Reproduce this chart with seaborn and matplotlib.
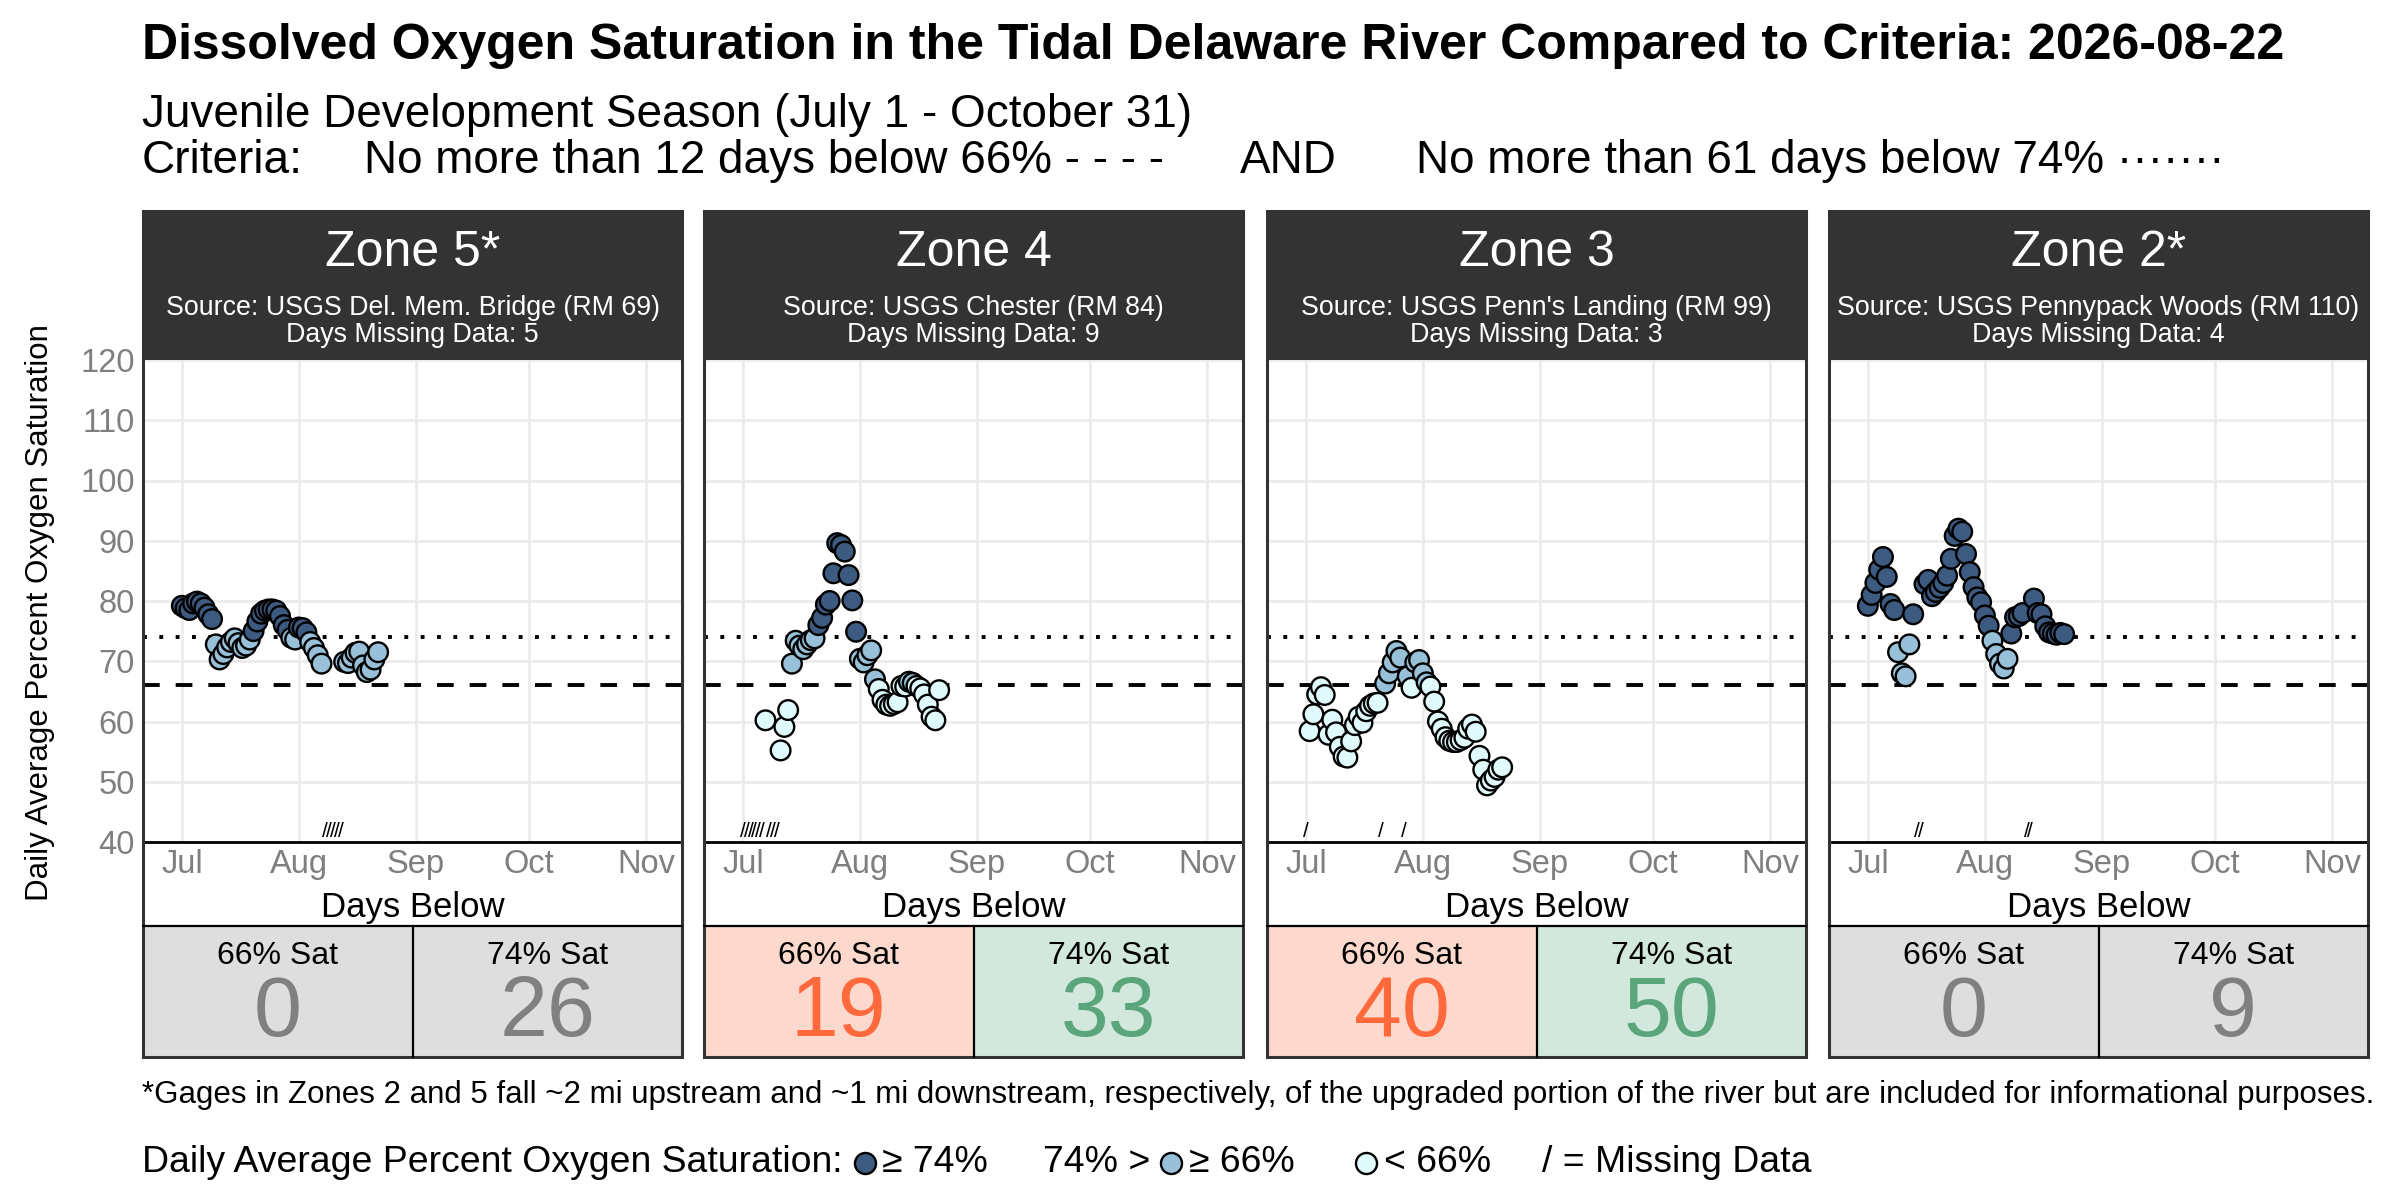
import numpy as np
import pandas as pd
import matplotlib
matplotlib.use("Agg")
import matplotlib.pyplot as plt
from matplotlib.patches import Rectangle
import seaborn as sns

nan = np.nan

# ---------------- data ----------------
report_date = "2026-08-22"
season_start = "2026-07-01"

zone_names = ["Zone 5*", "Zone 4", "Zone 3", "Zone 2*"]
zone_sources = ["Source: USGS Del. Mem. Bridge (RM 69)",
                "Source: USGS Chester (RM 84)",
                "Source: USGS Penn's Landing (RM 99)",
                "Source: USGS Pennypack Woods (RM 110)"]
zone_informational = [True, False, False, True]

zone5_sat = [79.2, 78.8, 78.5, 79.6, 79.9, 79.6, 78.9, 77.8, 77.0,
             72.8, 70.3, 71.2, 72.3, 73.2, 73.8, 73.0, 72.2, 72.6, 73.6,
             75.0, 76.6, 77.9, 78.4, 78.6, 78.6, 78.4, 77.5, 76.0, 75.2,
             73.9, 73.6, 75.6, 75.5, 74.8, 73.2, 72.2, 71.0, 69.6,
             nan, nan, nan, nan, nan,
             69.9, 69.7, 70.6, 71.4, 71.6, 69.3, 68.2, 68.6, 70.3, 71.5]

zone4_sat = [nan, nan, nan, nan, nan, nan, 60.2, nan, nan, nan,
             55.2, 59.1, 61.9, 69.6, 73.4, 72.6, 72.0, 72.8, 73.5, 73.8,
             76.0, 77.2, 79.4, 80.0, 84.6, 89.6, 89.3, 88.2, 84.3, 80.1,
             74.9, 70.4, 69.8, 71.0, 71.8, 67.0, 65.4, 63.6, 62.8, 62.6,
             62.9, 63.2, 65.9, 65.8, 66.6, 66.4, 65.9, 65.5, 64.5, 62.8,
             60.8, 60.2, 65.2]

zone3_sat = [nan, 58.4, 61.2, 64.5, 65.7, 64.4, 57.8, 60.3, 58.2, 55.8,
             54.2, 54.0, 56.7, 59.4, 60.8, 59.8, 61.7, 62.6, 63.0, 63.1,
             nan, 66.3, 68.0, 69.8, 71.7, 70.6, nan, 67.5, 65.6, 69.8,
             70.2, 68.0, 66.5, 65.8, 63.3, 60.0, 58.8, 57.4, 56.8, 56.6,
             56.6, 56.9, 57.3, 58.8, 59.5, 58.3, 54.3, 52.0, 49.4, 50.2,
             50.8, 52.0, 52.4]

zone2_sat = [79.2, 81.0, 83.0, 85.2, 87.3, 84.0, 79.5, 78.5, 71.5, 68.0,
             67.5, 72.8, 77.8, nan, nan, 82.8, 83.5, 80.8, 81.5, 82.2,
             83.0, 84.2, 87.0, 90.8, 92.0, 91.5, 87.8, 84.8, 82.3, 80.6,
             79.8, 77.6, 75.9, 73.4, 71.2, 69.6, 68.8, 70.4, 74.6, 77.3,
             77.5, 78.0, nan, nan, 80.4, 78.0, 77.8, 75.8, 74.8, 74.6,
             74.4, 74.7, 74.5]

zone_series = [zone5_sat, zone4_sat, zone3_sat, zone2_sat]

month_ticks = ["2026-07-01", "2026-08-01", "2026-09-01", "2026-10-01", "2026-11-01"]
month_labels = ["Jul", "Aug", "Sep", "Oct", "Nov"]
y_ticks = [40, 50, 60, 70, 80, 90, 100, 110, 120]

crit_low, crit_high = 66, 74
allowed_low, allowed_high = 12, 61

level_names = ["high", "mid", "low"]
level_colors = ["#3D5A80", "#98C1D9", "#E0FBFC"]

# ---------------- style ----------------
sns.set_theme(style="white")
plt.rcParams["font.family"] = ["Liberation Sans", "DejaVu Sans"]
plt.rcParams["text.color"] = "black"

W, H = 2400, 1200
fig = plt.figure(figsize=(W / 100, H / 100), dpi=100)
fig.patch.set_facecolor("white")
renderer = fig.canvas.get_renderer()


def rect(x0, y0, x1, y1):
    return [x0 / W, 1 - y1 / H, (x1 - x0) / W, (y1 - y0) / H]


def text_width(t):
    return t.get_window_extent(renderer=renderer).width


def fit(t, target):
    t.set_fontsize(t.get_fontsize() * target / text_width(t))


ov = fig.add_axes([0, 0, 1, 1], zorder=10)
ov.set_xlim(0, W)
ov.set_ylim(H, 0)
ov.set_axis_off()

panel_left = [143, 704, 1267, 1829]
panel_w = 539
strip_top, plot_top, plot_bot, table_top, table_bot = 211, 360, 842, 926, 1057

dates = pd.date_range(season_start, periods=len(zone5_sat), freq="D")
x_min = pd.Timestamp("2026-06-20 17:00")
x_max = pd.Timestamp("2026-11-10 12:00")
palette = dict(zip(level_names, level_colors))

for k, (name, src, info, series) in enumerate(zip(zone_names, zone_sources,
                                                   zone_informational, zone_series)):
    L = panel_left[k]
    vals = np.array(series, dtype=float)
    df = pd.DataFrame({"date": dates, "sat": vals}).dropna()
    df["level"] = np.where(df["sat"] >= crit_high, "high",
                           np.where(df["sat"] >= crit_low, "mid", "low"))

    ax = fig.add_axes(rect(L, plot_top, L + panel_w, plot_bot))
    ax.set_facecolor("white")
    ax.grid(True, color="#EBEBEB", lw=1.9)
    ax.set_axisbelow(True)
    ax.axhline(crit_high, color="black", lw=2.8, ls=(0, (1, 3.2)), zorder=2)
    ax.axhline(crit_low, color="black", lw=2.8, ls=(0, (4.3, 4.1)), zorder=2)
    sns.scatterplot(data=df, x="date", y="sat", hue="level", hue_order=level_names,
                    palette=palette, s=200, edgecolor="black", linewidth=1.7,
                    legend=False, ax=ax, zorder=3)
    missing = dates[np.isnan(vals)]
    for d in missing:
        ax.text(d, 40.2, "/", ha="center", va="bottom", fontsize=15,
                color="black", zorder=4)
    ax.set_xlim(x_min, x_max)
    ax.set_ylim(40, 120)
    ax.set_xticks(pd.to_datetime(month_ticks))
    ax.set_xticklabels(month_labels)
    ax.set_yticks(y_ticks)
    ax.tick_params(axis="both", length=0, labelsize=23.5, labelcolor="#7F7F7F")
    ax.tick_params(axis="x", pad=5)
    ax.tick_params(axis="y", pad=6, labelleft=(k == 0))
    ax.set_xlabel("")
    ax.set_ylabel("")
    for s in ["top", "left", "right"]:
        ax.spines[s].set_visible(False)
    ax.spines["bottom"].set_color("black")
    ax.spines["bottom"].set_linewidth(2)

    cx = L + panel_w / 2
    # strip
    ov.add_patch(Rectangle((L, strip_top), panel_w, plot_top - strip_top,
                           fc="#333333", ec="none"))
    ov.text(cx, 253, name, color="white", fontsize=36, ha="center", va="center")
    ov.text(cx, 308, src, color="white", fontsize=19.3, ha="center", va="center")
    n_missing = int(np.isnan(vals).sum())
    ov.text(cx, 335, f"Days Missing Data: {n_missing}", color="white", fontsize=19.3,
            ha="center", va="center")

    # days-below table
    n_low = int(np.sum(vals < crit_low))
    n_high = int(np.sum(vals < crit_high))
    if info:
        bg_low = bg_high = "#DEDEDE"
        fg_low = fg_high = "#808080"
    else:
        bg_low, fg_low = ("#FDD8CC", "#FF693B") if n_low > allowed_low else ("#D3E8DD", "#5AA57A")
        bg_high, fg_high = ("#FDD8CC", "#FF693B") if n_high > allowed_high else ("#D3E8DD", "#5AA57A")
    ov.text(cx, 908, "Days Below", fontsize=25, ha="center", va="center")
    ov.add_patch(Rectangle((L, table_top), panel_w / 2, table_bot - table_top, fc=bg_low, ec="none"))
    ov.add_patch(Rectangle((cx, table_top), panel_w / 2, table_bot - table_top, fc=bg_high, ec="none"))
    ov.plot([L, L + panel_w], [table_top, table_top], color="black", lw=1.6)
    ov.plot([cx, cx], [table_top, table_bot], color="black", lw=1.6)
    ov.text(L + panel_w / 4, 956, f"{crit_low}% Sat", fontsize=23, ha="center", va="center")
    ov.text(L + 3 * panel_w / 4, 956, f"{crit_high}% Sat", fontsize=23, ha="center", va="center")
    ov.text(L + panel_w / 4, 1014, str(n_low), fontsize=62, color=fg_low, ha="center", va="center")
    ov.text(L + 3 * panel_w / 4, 1014, str(n_high), fontsize=62, color=fg_high, ha="center", va="center")
    ov.add_patch(Rectangle((L, strip_top), panel_w, table_bot - strip_top,
                           fill=False, ec="#333333", lw=2.2))

# y label
yl = ov.text(40, 613, "Daily Average Percent Oxygen Saturation", rotation=90,
             fontsize=22.5, ha="center", va="center")

# titles
t = ov.text(142, 46, "Dissolved Oxygen Saturation in the Tidal Delaware River Compared to "
            f"Criteria: {report_date}", fontsize=33, fontweight="bold", ha="left", va="center")
fit(t, 2143)
st = ov.text(142, 115, "Juvenile Development Season (July 1 - October 31)", fontsize=33,
             ha="left", va="center")
fit(st, 1052)
fs_sub = st.get_fontsize()
ov.text(142, 161, "Criteria:", fontsize=fs_sub, ha="left", va="center")
ov.text(364, 161, f"No more than {allowed_low} days below {crit_low}% - - - -", fontsize=fs_sub,
        ha="left", va="center")
ov.text(1240, 161, "AND", fontsize=fs_sub, ha="left", va="center")
ov.text(1416, 161, f"No more than {allowed_high} days below {crit_high}% \u00b7\u00b7\u00b7\u00b7\u00b7\u00b7\u00b7",
        fontsize=fs_sub, ha="left", va="center")

# footnote
fn = ov.text(142, 1095, "*Gages in Zones 2 and 5 fall ~2 mi upstream and ~1 mi downstream, "
             "respectively, of the upgraded portion of the river but are included for "
             "informational purposes.", fontsize=20, ha="left", va="center")
fit(fn, 2228)

# legend row
yL = 1163
x = 142
lab = ov.text(x, yL, "Daily Average Percent Oxygen Saturation:", fontsize=27, ha="left", va="center")
fit(lab, 700)
fs_leg = lab.get_fontsize()
x += text_width(lab) + 12
items = [("dot", level_colors[0], 8),
         ("text", "\u2265 74%", 55),
         ("text", "74% >", 10),
         ("dot", level_colors[1], 8),
         ("text", "\u2265 66%", 62),
         ("dot", level_colors[2], 8),
         ("text", "< 66%", 50),
         ("text", "/ = Missing Data", 0)]
for kind, val, gap in items:
    if kind == "text":
        tt = ov.text(x, yL, val, fontsize=fs_leg, ha="left", va="center")
        x += text_width(tt) + gap
    else:
        ov.scatter([x + 10], [yL], s=230, c=val, edgecolors="black", linewidths=1.7)
        x += 20 + gap

fig.savefig("out.png", dpi=100, facecolor="white")
